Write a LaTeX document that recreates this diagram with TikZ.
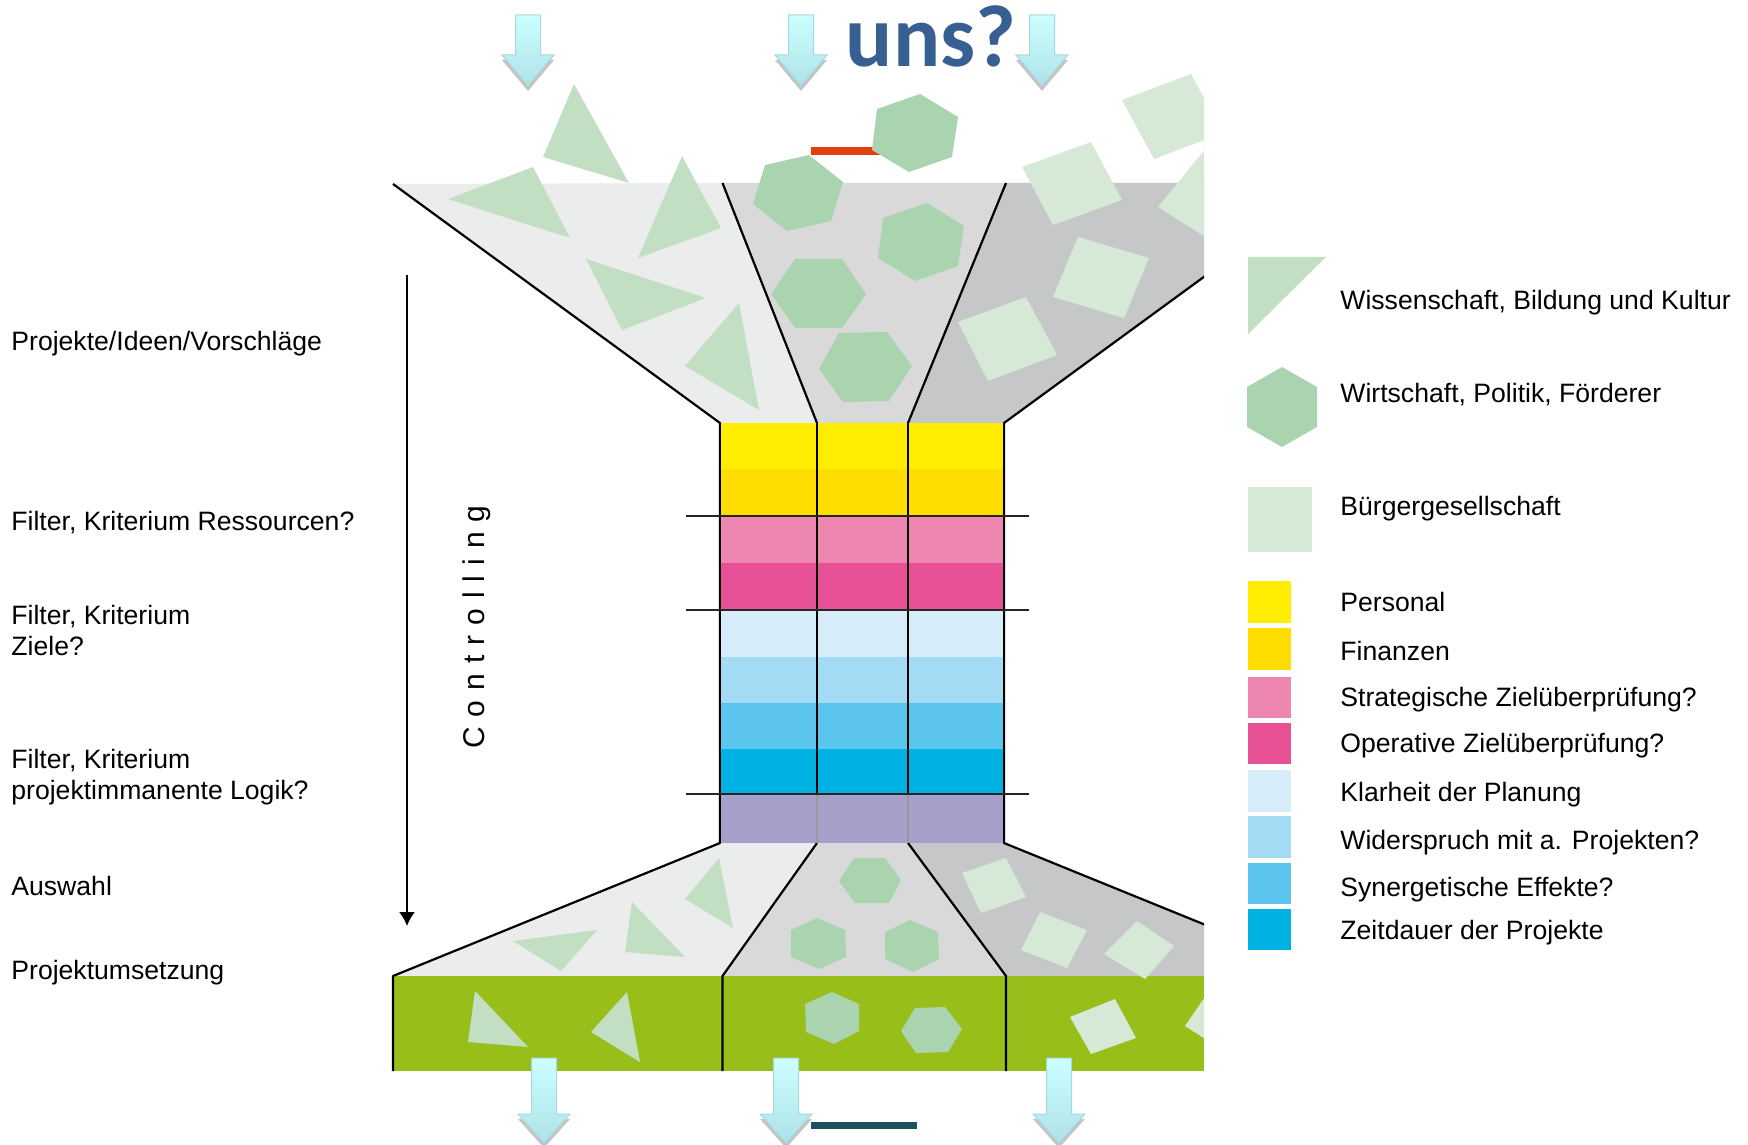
\documentclass[tikz,border=0pt]{standalone}
\usepackage{fontspec}
\setmainfont{Liberation Sans}
\newfontfamily\unsfont{Carlito}
\usetikzlibrary{arrows.meta}
\definecolor{secA}{HTML}{EBECEC}
\definecolor{secB}{HTML}{D9D9D9}
\definecolor{secC}{HTML}{C6C7C9}
\definecolor{trigreen}{HTML}{C2DFC3}
\definecolor{hexgreen}{HTML}{A9D4AF}
\definecolor{sqgreen}{HTML}{D6E9D7}
\definecolor{bandgreen}{HTML}{98BE1A}
\definecolor{yelA}{HTML}{FFED00}
\definecolor{yelB}{HTML}{FFDD00}
\definecolor{pinkA}{HTML}{ED87B2}
\definecolor{pinkB}{HTML}{E75094}
\definecolor{blueA}{HTML}{D6EDF9}
\definecolor{blueB}{HTML}{A3DAF4}
\definecolor{blueC}{HTML}{5CC5EE}
\definecolor{blueD}{HTML}{00B1E4}
\definecolor{purp}{HTML}{A69FC9}
\definecolor{unsblue}{HTML}{375F92}
\definecolor{redbar}{HTML}{E2400F}
\definecolor{tealbar}{HTML}{1B5262}
\definecolor{arrowtop}{HTML}{CCFFFF}
\definecolor{arrowbot}{HTML}{AEE2E8}
\definecolor{arrowedge}{HTML}{A6D8E0}
\definecolor{shadowgray}{HTML}{C4C4C4}
\tikzset{
  tri/.style={fill=trigreen},
  hexa/.style={fill=hexgreen},
  quad/.style={fill=sqgreen},
  edgeline/.style={draw=black, line width=1.1pt, line join=round},
  filterline/.style={draw=black!85, line width=1pt},
  lbl/.style={anchor=base west, inner sep=0pt, font=\fontsize{13.3}{16}\selectfont},
}
\newcommand\flowarrow[4]{%
  \begin{scope}[shift={(#1,#2)}]
    \fill[shadowgray] (-12.5,5) -- (-12.5,#3+5) -- (-26,#3+5) -- (0,#4+5) -- (26,#3+5) -- (12.5,#3+5) -- (12.5,5) -- cycle;
    \shadedraw[top color=arrowtop, bottom color=arrowbot, draw=arrowedge, line width=0.5pt]
      (-12.5,0) -- (-12.5,#3) -- (-26,#3) -- (0,#4) -- (26,#3) -- (12.5,#3) -- (12.5,0) -- cycle;
  \end{scope}}
\newcommand\lsp{\kern5pt}
\begin{document}
\begin{tikzpicture}[x=0.5pt,y=-0.5pt]
\useasboundingbox (0,0) rectangle (1748,1144);
\clip (0,0) rectangle (1748,1144);

% ---------- funnel and shapes (clipped at right image border)
\begin{scope}
\clip (0,0) rectangle (1204,1144);
% upper funnel sections
\fill[secA] (393,184) -- (722.5,183) -- (817,423) -- (720,423) -- cycle;
\fill[secB] (722.5,183) -- (1006,183) -- (908,423) -- (817,423) -- cycle;
\fill[secC] (1006,183) -- (1331,183) -- (1004,423) -- (908,423) -- cycle;
% lower funnel sections
\fill[secA] (720,843) -- (817,843) -- (722.5,976) -- (393,976) -- cycle;
\fill[secB] (817,843) -- (908,843) -- (1006,976) -- (722.5,976) -- cycle;
\fill[secC] (908,843) -- (1004,843) -- (1331,976) -- (1006,976) -- cycle;
% green band
\fill[bandgreen] (393,976) rectangle (1204,1071);

% red bar
\fill[redbar] (811,147) rectangle (881,155);

% shapes above / in upper funnel
\fill[tri] (574,84) -- (543,157) -- (629,183) -- cycle;
\fill[hexa] (920,94) -- (958,117) -- (952,157) -- (909,172) -- (872,150) -- (877,109) -- cycle;
\fill[quad] (1122,100) -- (1191,74) -- (1223,133) -- (1154,159) -- cycle;
\fill[quad] (1158,207) -- (1210,143) -- (1260,175) -- (1210,240) -- cycle;
\fill[quad] (1022,167) -- (1091,142) -- (1122,200) -- (1053,225) -- cycle;
\fill[quad] (1078,237) -- (1149,258) -- (1124,318) -- (1053,297) -- cycle;
\fill[quad] (1026,297) -- (1057,355) -- (988,381) -- (958,322) -- cycle;
\fill[tri] (448,199) -- (533,167) -- (570,238) -- cycle;
\fill[tri] (682,156) -- (721,228) -- (638,258) -- cycle;
\fill[tri] (586,259) -- (706,298) -- (622,330) -- cycle;
\fill[tri] (739,303) -- (759,410) -- (685,366) -- cycle;
\fill[hexa] (765,165) -- (809,155) -- (843,182) -- (831,221) -- (787,231) -- (753,204) -- cycle;
\fill[hexa] (927,203) -- (964,226) -- (958,266) -- (915,281) -- (878,258) -- (883,218) -- cycle;
\fill[hexa] (795,259) -- (842,259) -- (866,294) -- (842,328) -- (795,328) -- (771,294) -- cycle;
\fill[hexa] (839,333) -- (887,332) -- (912,366) -- (889,401) -- (843,402) -- (819,369) -- cycle;

% shapes in lower funnel
\fill[tri] (719,858) -- (733,928) -- (685,899) -- cycle;
\fill[tri] (632,902) -- (685,957) -- (625,952) -- cycle;
\fill[tri] (513,941) -- (597,930) -- (561,971) -- cycle;
\fill[hexa] (854,858) -- (885,858) -- (901,880) -- (889,903) -- (855,903) -- (839,881) -- cycle;
\fill[hexa] (817,918) -- (845,930) -- (846,957) -- (819,969) -- (791,957) -- (791,930) -- cycle;
\fill[hexa] (910,920) -- (938,932) -- (939,959) -- (913,972) -- (885,959) -- (885,932) -- cycle;
\fill[quad] (962,873) -- (1006,858) -- (1026,897) -- (981,913) -- cycle;
\fill[quad] (1040,912) -- (1087,930) -- (1067,968) -- (1021,950) -- cycle;
\fill[quad] (1137,921) -- (1174,946) -- (1145,979) -- (1104,954) -- cycle;

% shapes in green band
\fill[tri] (475,991) -- (528,1047) -- (468,1042) -- cycle;
\fill[tri] (627,992) -- (640,1062) -- (591,1032) -- cycle;
\fill[hexa] (832,992) -- (859,1004) -- (859,1031) -- (834,1044) -- (806,1032) -- (805,1004) -- cycle;
\fill[hexa] (915,1008) -- (945,1007) -- (962,1029) -- (948,1052) -- (916,1053) -- (901,1031) -- cycle;
\fill[quad] (1070,1017) -- (1115,999) -- (1136,1038) -- (1091,1054) -- cycle;
\fill[quad] (1185,1026) -- (1213,985) -- (1240,1010) -- (1213,1044) -- cycle;

% outlines
\draw[edgeline] (393,184) -- (720,423) -- (720,843) -- (393,976) -- (393,1071);
\draw[edgeline] (1331,184) -- (1004,423) -- (1004,843) -- (1331,976);
\draw[edgeline] (722.5,183) -- (817,423);
\draw[edgeline] (1006,183) -- (908,423);
\draw[edgeline] (817,843) -- (722.5,976) -- (722.5,1071);
\draw[edgeline] (908,843) -- (1006,976) -- (1006,1071);
\end{scope}

% ---------- filter block
\foreach \ya/\yb/\c in {423/469/yelA, 469/516/yelB, 516/563/pinkA, 563/610/pinkB,
  610/657/blueA, 657/703/blueB, 703/749/blueC, 749/794/blueD, 794/843/purp}
  \fill[\c] (720,\ya) rectangle (1004,\yb);
\draw[black!40, line width=0.6pt] (817,794) -- (817,843) (908,794) -- (908,843);
\draw[edgeline] (817,423) -- (817,794);
\draw[edgeline] (908,423) -- (908,794);
\draw[edgeline] (720,423) -- (720,843);
\draw[edgeline] (1004,423) -- (1004,843);
\draw[filterline] (686,516) -- (1029,516);
\draw[filterline] (686,610) -- (1029,610);
\draw[filterline] (686,794) -- (1029,794);

% ---------- arrows top and bottom
\flowarrow{528}{15}{40}{71}
\flowarrow{801}{15}{40}{71}
\flowarrow{1042}{15}{40}{71}
\flowarrow{544}{1058}{56}{85}
\flowarrow{786}{1058}{56}{85}
\flowarrow{1059}{1058}{56}{85}
\fill[tealbar] (811,1122) rectangle (917,1129);

\node[anchor=base, inner sep=0pt, text=unsblue, font=\unsfont\bfseries\fontsize{44}{44}\selectfont] (uns) at (931,67) {uns?};

% ---------- controlling arrow
\coordinate (ctrltop) at (407,275);
\coordinate (ctrlbot) at (407,926);
\draw[line width=0.9pt, -{Latex[length=7pt,width=8pt]}] (ctrltop) -- (ctrlbot);
\node[anchor=base, inner sep=0pt, rotate=90, font=\fontsize{15}{16}\selectfont] (ctrl) at (484,627)
  {C\lsp o\lsp n\lsp t\lsp r\lsp o\lsp l\lsp l\lsp i\lsp n\lsp g};

% ---------- left labels
\node[lbl] (l1) at (11,350.5) {Projekte/Ideen/Vorschläge};
\node[lbl] (l2) at (11,530.5) {Filter, Kriterium Ressourcen?};
\node[lbl] (l3a) at (11,624) {Filter, Kriterium};
\node[lbl] (l3b) at (11,655.5) {Ziele?};
\node[lbl] (l4a) at (11,768) {Filter, Kriterium};
\node[lbl] (l4b) at (11,799.5) {projektimmanente Logik?};
\node[lbl] (l5) at (11,895.5) {Auswahl};
\node[lbl] (l6) at (11,979.5) {Projektumsetzung};

% ---------- legend
\fill[tri] (1248,257) -- (1326,257) -- (1248,334) -- cycle;
\fill[hexa] (1282,367) -- (1317,387) -- (1317,427) -- (1282,447) -- (1247,427) -- (1247,387) -- cycle;
\fill[quad] (1248,487) rectangle (1312,552);
\node[lbl] (g1) at (1340,310) {Wissenschaft, Bildung und Kultur};
\node[lbl] (g2) at (1340,402) {Wirtschaft, Politik, Förderer};
\node[lbl] (g3) at (1340,515) {Bürgergesellschaft};
\foreach \ya/\yb/\c in {581/623/yelA, 628/670/yelB, 677/718/pinkA, 723/764/pinkB,
  770/812/blueA, 816/858/blueB, 863/904/blueC, 909/950/blueD}
  \fill[\c] (1248,\ya) rectangle (1291,\yb);
\node[lbl] (k1) at (1340,611.5) {Personal};
\node[lbl] (k2) at (1340,660) {Finanzen};
\node[lbl] (k3) at (1340,706.5) {Strategische Zielüberprüfung?};
\node[lbl] (k4) at (1340,752) {Operative Zielüberprüfung?};
\node[lbl] (k5) at (1340,801) {Klarheit der Planung};
\node[lbl] (k6) at (1340,849) {Widerspruch mit a. Projekten?};
\node[lbl] (k7) at (1340,896) {Synergetische Effekte?};
\node[lbl] (k8) at (1340,939) {Zeitdauer der Projekte};
\end{tikzpicture}
\end{document}
